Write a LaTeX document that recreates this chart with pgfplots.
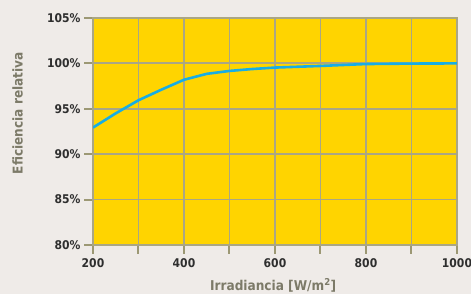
\documentclass[border=0pt]{standalone}
\usepackage{pgfplots}
\pgfplotsset{compat=1.18}
\usepackage{fontspec}
\setmainfont{DejaVu Sans Condensed}
\definecolor{bgc}{HTML}{EFEBE8}
\definecolor{yel}{HTML}{FFD400}
\definecolor{gridc}{HTML}{AAA684}
\definecolor{tickcol}{HTML}{9C9874}
\definecolor{bluec}{HTML}{18ADE4}
\definecolor{tickc}{HTML}{2E2E2E}
\definecolor{labc}{HTML}{7C7A68}
\begin{document}
\begin{tikzpicture}
\fill[bgc] (0pt,0pt) rectangle (471pt,294pt);
\useasboundingbox (0pt,0pt) rectangle (471pt,294pt);
\begin{axis}[
  at={(93pt,49pt)}, anchor=south west,
  scale only axis, width=364pt, height=227pt,
  xmin=200, xmax=1000, ymin=80, ymax=105,
  xtick={200,300,...,1000},
  xticklabels={200,,400,,600,,800,,1000},
  ytick={80,85,...,105},
  yticklabels={80\%,85\%,90\%,95\%,100\%,105\%},
  tick pos=left,
  tick align=outside,
  axis background/.style={fill=yel},
  grid=major,
  grid style={gridc, line width=1.8pt},
  axis line style={gridc, line width=1.8pt},
  xtick style={color=tickcol, line width=2pt},
  ytick style={color=tickcol, line width=2pt},
  major tick length=9pt,
  tick label style={font=\bfseries\fontsize{12}{14}\selectfont, text=tickc},
  xticklabel style={yshift=-1pt},
  xlabel={Irradiancia [W/m\textsuperscript{2}]},
  ylabel={Eficiencia relativa},
  label style={font=\bfseries\fontsize{13.5}{15}\selectfont, text=labc},
  xlabel style={at={(axis description cs:0.495,-0.178)}, anchor=center},
  ylabel style={at={(axis description cs:-0.207,0.581)}, anchor=center},
  /pgf/number format/assume math mode=true,
]
\addplot[bluec, line width=2.6pt, line join=round] coordinates {
(200,92.93) (250,94.5) (300,95.94) (350,97.1) (400,98.2) (450,98.85) (500,99.17) (550,99.38) (600,99.54) (700,99.72) (800,99.93) (900,99.98) (1000,100)
};
\end{axis}
\end{tikzpicture}
\end{document}
